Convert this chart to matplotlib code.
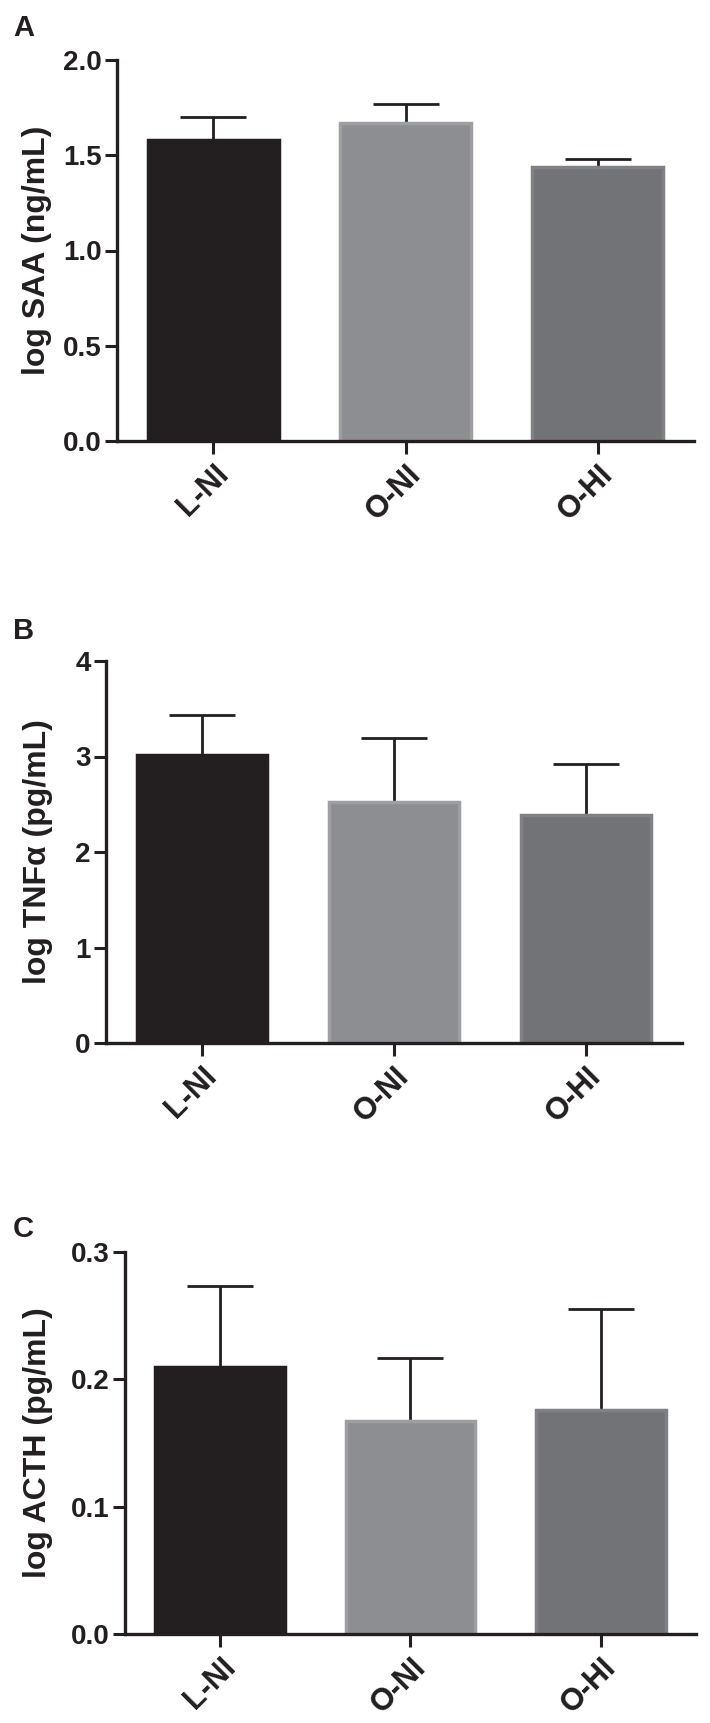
import numpy as np
from matplotlib import pyplot as plt

plt.rcParams['font.family'] = ['Liberation Sans', 'DejaVu Sans']
plt.rcParams['font.weight'] = 'bold'

groups = ['L-NI', 'O-NI', 'O-HI']

saa_mean = [1.58, 1.67, 1.44]
saa_err = [0.12, 0.10, 0.04]

tnf_mean = [3.02, 2.52, 2.39]
tnf_err = [0.41, 0.67, 0.53]

acth_mean = [0.210, 0.167, 0.176]
acth_err = [0.063, 0.050, 0.079]

fill_colors = ['#231f20', '#8d8e92', '#727377']
edge_colors = ['#231f20', '#9e9fa2', '#808185']

panels = [
    ('A', saa_mean, saa_err, 'log SAA (ng/mL)', [0, 0.5, 1.0, 1.5, 2.0], '%.1f', 2.0),
    ('B', tnf_mean, tnf_err, 'log TNFα (pg/mL)', [0, 1, 2, 3, 4], '%d', 4),
    ('C', acth_mean, acth_err, 'log ACTH (pg/mL)', [0, 0.1, 0.2, 0.3], '%.1f', 0.3),
]

# axes boxes in pixels: left, top, right, bottom
boxes = [(117, 60, 694, 441), (106, 661, 682, 1043), (125, 1252, 696, 1634)]
label_y = [36, 639, 1237]
ylab_x = [-0.113, -0.092, -0.126]

W, H = 710, 1723
fig = plt.figure(figsize=(W / 100, H / 100), dpi=100)

x = np.arange(len(groups))
for i, (tag, vals, errs, ylab, yticks, fmt, ymax) in enumerate(panels):
    l, t, r, b = boxes[i]
    ax = fig.add_axes([l / W, (H - b) / H, (r - l) / W, (b - t) / H])
    ax.errorbar(x, vals, yerr=[np.zeros(3), errs], fmt='none', ecolor='#231f20',
                elinewidth=2.0, capsize=24, capthick=2.0, zorder=1)
    ax.bar(x, vals, width=0.68, color=fill_colors, edgecolor=edge_colors,
           linewidth=2.5, zorder=2)
    ax.set_xlim(-0.5, 2.5)
    ax.set_ylim(0, ymax)
    ax.set_yticks(yticks)
    ax.set_yticklabels([fmt % v for v in yticks])
    ax.set_xticks(x)
    ax.set_xticklabels(groups, rotation=45, ha='right', rotation_mode='anchor')
    for s in ['top', 'right']:
        ax.spines[s].set_visible(False)
    for s in ['left', 'bottom']:
        ax.spines[s].set_linewidth(2.4)
        ax.spines[s].set_color('#231f20')
        ax.spines[s].set_zorder(3)
    ax.tick_params(axis='both', length=9, width=2.2, color='#231f20',
                   labelsize=20, labelcolor='#231f20', pad=2)
    ax.tick_params(axis='x', labelsize=22, pad=4)
    ax.set_ylabel(ylab, fontsize=23, fontweight='bold', color='#231f20')
    ax.yaxis.set_label_coords(ylab_x[i], 0.5)
    fig.text(13 / W, (H - label_y[i]) / H, tag, fontsize=21, fontweight='bold',
             color='#231f20', ha='left', va='baseline')

fig.savefig('out.png', dpi=100)
plt.close(fig)
